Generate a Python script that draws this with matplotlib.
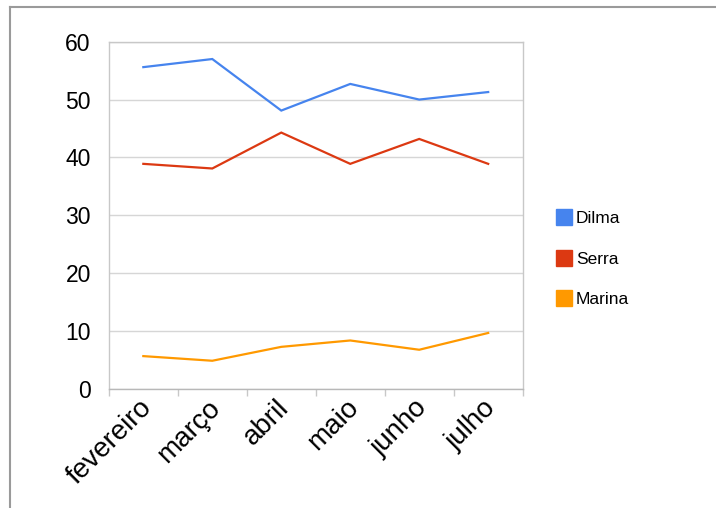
import matplotlib
import matplotlib.pyplot as plt
import matplotlib.transforms as mtransforms
from matplotlib.lines import Line2D

matplotlib.use('Agg')

months = ["fevereiro", "março", "abril", "maio", "junho", "julho"]
dilma = [55.6, 57.0, 48.1, 52.7, 50.0, 51.3]
serra = [38.9, 38.1, 44.3, 38.9, 43.2, 38.9]
marina = [5.7, 4.9, 7.3, 8.4, 6.8, 9.7]
series_names = ["Dilma", "Serra", "Marina"]
colors = ["#4684ee", "#dc3912", "#ff9900"]
yticks = [0, 10, 20, 30, 40, 50, 60]

plt.rcParams['font.family'] = ['Liberation Sans', 'DejaVu Sans']

fig = plt.figure(figsize=(7.16, 5.08), dpi=100)
ax = fig.add_axes([0.152, 0.234, 0.578, 0.684])

x = list(range(len(months)))
for vals, c in zip([dilma, serra, marina], colors):
    ax.plot(x, vals, color=c, lw=1.6, solid_joinstyle='miter')

ax.set_xlim(-0.5, len(months) - 0.5)
ax.set_ylim(0, 60)
ax.set_yticks(yticks)
ax.set_yticklabels([str(v) for v in yticks], fontsize=16.5)
ax.tick_params(axis='y', length=0, pad=13)

ax.set_xticks(x)
ax.set_xticklabels(months, fontsize=20, rotation=45, ha='right',
                   rotation_mode='anchor')
ax.tick_params(axis='x', length=0, pad=4)
shift = mtransforms.ScaledTranslation(-5 / 100, 0, fig.dpi_scale_trans)
for lbl in ax.get_xticklabels():
    lbl.set_transform(lbl.get_transform() + shift)
ax.set_xticks([i - 0.5 for i in range(len(months) + 1)], minor=True)
ax.tick_params(axis='x', which='minor', length=5, color='#c8c8c8', width=1)

ax.grid(axis='y', color='#d6d6d6', lw=1)
ax.set_axisbelow(True)
for s in ax.spines.values():
    s.set_color('#c8c8c8')
    s.set_linewidth(1)
ax.spines['bottom'].set_color('#b8b8b8')

handles = [Line2D([], [], marker='s', ls='none', markersize=11.5,
                  markerfacecolor=c, markeredgecolor=c) for c in colors]
fig.legend(handles, series_names, loc='center left',
           bbox_to_anchor=(0.752, 0.490), frameon=False, fontsize=12.5,
           handletextpad=0.05, labelspacing=1.45, handlelength=1.2)

# outer border (top and left edges only)
fig.add_artist(Line2D([10 / 716, 10 / 716], [0, 1 - 7 / 508],
                      transform=fig.transFigure, color='#9a9a9a', lw=1.5))
fig.add_artist(Line2D([10 / 716, 1], [1 - 7 / 508, 1 - 7 / 508],
                      transform=fig.transFigure, color='#9a9a9a', lw=1.5))

fig.savefig("out.png", dpi=100)
